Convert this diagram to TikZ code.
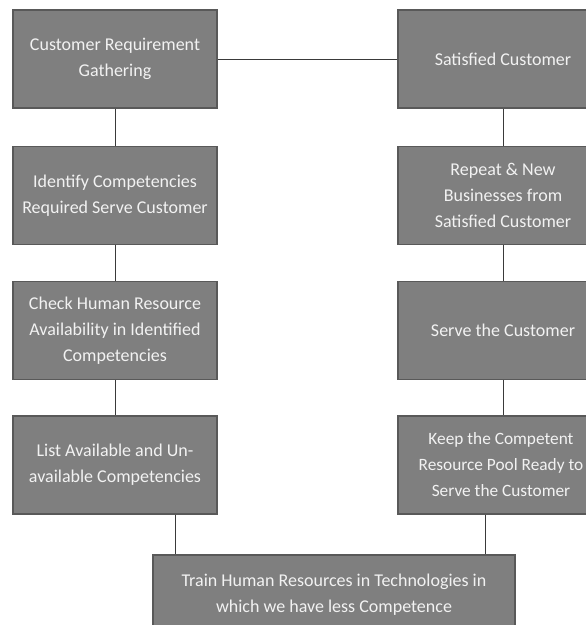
\documentclass[tikz,border=0pt]{standalone}
\usepackage{fontspec}
\setmainfont{Carlito}
\usepackage{tikz}
\usetikzlibrary{positioning, calc}
\definecolor{boxFill}{HTML}{7f7f7f}
\definecolor{boxEdge}{HTML}{595959}
\definecolor{boxText}{HTML}{f2f2f2}
\definecolor{wire}{HTML}{3a3a3a}

\begin{document}
\begin{tikzpicture}[x=1pt, y=1pt, blk/.style={draw=boxEdge, line width=1.3pt, fill=boxFill, text=boxText, minimum width=204pt, minimum height=98pt, align=center, inner sep=2pt, font=\fontsize{18}{26}\selectfont}, wide/.style={minimum width=362pt, minimum height=80pt}, link/.style={draw=wire, line width=0.9pt}, node distance=37pt]
\useasboundingbox (0,0) rectangle (586,-625);
% left column
\node[blk] (gather) at (115,-59) {Customer Requirement\\Gathering};
\node[blk, below=of gather] (identify) {Identify Competencies\\Required Serve Customer};
\node[blk, below=36pt of identify] (check) {Check Human Resource\\Availability in Identified\\Competencies};
\node[blk, below=35pt of check] (list) {List Available and Un-\\available Competencies};
% right column
\node[blk, minimum width=210pt] (satisfied) at (503,-59) {Satisfied Customer};
\node[blk, minimum width=210pt, below=of satisfied] (repeat) {Repeat \& New\\Businesses from\\Satisfied Customer};
\node[blk, minimum width=210pt, below=36pt of repeat] (serve) {Serve the Customer};
\node[blk, minimum width=206pt, font=\fontsize{17.3}{26}\selectfont, below=35pt of serve, xshift=-2pt] (keep) {Keep the Competent\\Resource Pool Ready to\\Serve the Customer};
% bottom
\node[blk, wide] (train) at (334,-595) {Train Human Resources in Technologies in\\which we have less Competence};
\draw[link] (gather)--(satisfied);
\draw[link] (gather)--(identify); \draw[link] (identify)--(check); \draw[link] (check)--(list);
\draw[link] (satisfied)--(repeat); \draw[link] (repeat)--(serve); \draw[link] (serve)--(serve.south |- keep.north);
\draw[link] ([xshift=60pt]list.south)--([xshift=60pt]list.south |- train.north);
\draw[link] ([xshift=-16pt]keep.south)--([xshift=-16pt]keep.south |- train.north);
\end{tikzpicture}
\end{document}
